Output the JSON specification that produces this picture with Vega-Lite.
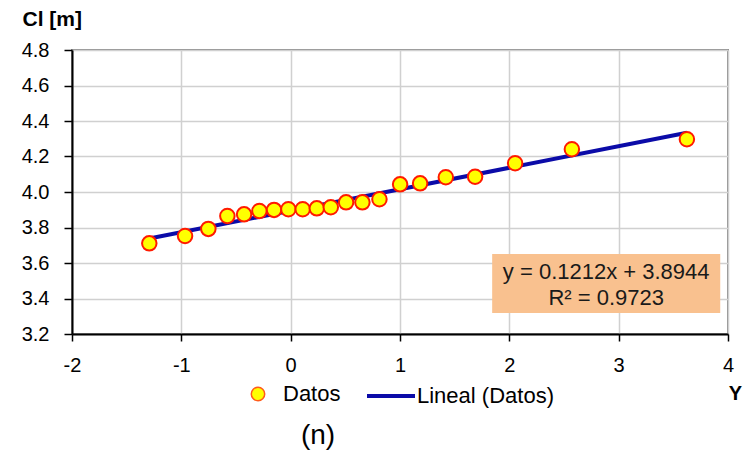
{
  "$schema": "https://vega.github.io/schema/vega-lite/v6.json",
  "width": 656,
  "height": 284,
  "autosize": {"type": "none"},
  "padding": {"left": 72, "top": 50, "right": 25, "bottom": 117},
  "background": "#ffffff",
  "config": {
    "font": "Liberation Sans",
    "view": {"stroke": "#8c8c8c", "strokeWidth": 2},
    "axis": {
      "labelFont": "Liberation Sans",
      "labelFontSize": 20,
      "labelColor": "#000000",
      "labelOverlap": false,
      "labelFlush": false,
      "titleFont": "Liberation Sans",
      "titleColor": "#000000",
      "gridColor": "#d0d0d0",
      "gridWidth": 1.5,
      "domainColor": "#000000",
      "domainWidth": 2,
      "tickColor": "#000000",
      "tickWidth": 1.5
    },
    "legend": {
      "labelFont": "Liberation Sans",
      "labelFontSize": 22,
      "labelColor": "#000000",
      "padding": 0
    },
    "title": {"font": "Liberation Sans"}
  },
  "title": {
    "text": "(n)",
    "orient": "bottom",
    "anchor": "middle",
    "frame": "group",
    "fontSize": 28,
    "fontWeight": "normal",
    "color": "#000000",
    "dx": -82,
    "offset": 15
  },
  "datasets": {
    "pts": [
      {"x": -1.293, "y": 3.711, "serie": "Datos"},
      {"x": -0.966, "y": 3.752, "serie": "Datos"},
      {"x": -0.753, "y": 3.792, "serie": "Datos"},
      {"x": -0.579, "y": 3.865, "serie": "Datos"},
      {"x": -0.426, "y": 3.874, "serie": "Datos"},
      {"x": -0.286, "y": 3.893, "serie": "Datos"},
      {"x": -0.152, "y": 3.899, "serie": "Datos"},
      {"x": -0.021, "y": 3.903, "serie": "Datos"},
      {"x": 0.110, "y": 3.903, "serie": "Datos"},
      {"x": 0.239, "y": 3.908, "serie": "Datos"},
      {"x": 0.367, "y": 3.914, "serie": "Datos"},
      {"x": 0.507, "y": 3.942, "serie": "Datos"},
      {"x": 0.656, "y": 3.942, "serie": "Datos"},
      {"x": 0.812, "y": 3.959, "serie": "Datos"},
      {"x": 1.001, "y": 4.043, "serie": "Datos"},
      {"x": 1.184, "y": 4.049, "serie": "Datos"},
      {"x": 1.419, "y": 4.083, "serie": "Datos"},
      {"x": 1.687, "y": 4.086, "serie": "Datos"},
      {"x": 2.053, "y": 4.162, "serie": "Datos"},
      {"x": 2.572, "y": 4.241, "serie": "Datos"},
      {"x": 3.624, "y": 4.297, "serie": "Datos"}
    ],
    "trend": [
      {"x": -1.293, "y": 3.7377, "linea": "Lineal (Datos)"},
      {"x": 3.624, "y": 4.3336, "linea": "Lineal (Datos)"}
    ],
    "box": [
      {"x": 1.843, "x2": 3.929, "y": 3.651, "y2": 3.318}
    ],
    "eq": [
      {"x": 2.886, "y": 3.551, "label": "y = 0.1212x + 3.8944"},
      {"x": 2.886, "y": 3.401, "label": "R² = 0.9723"}
    ]
  },
  "encoding": {
    "x": {
      "field": "x",
      "type": "quantitative",
      "scale": {"domain": [-2, 4], "nice": false, "zero": false},
      "axis": {
        "values": [-2, -1, 0, 1, 2, 3, 4],
        "labelExpr": "replace(format(datum.value, '.0f'), '\u2212', '-')",
        "labelOverlap": false,
        "labelFlush": false,
        "tickSize": 7,
        "labelPadding": 14,
        "title": "Y",
        "titleFontSize": 20,
        "titleFontWeight": "bold",
        "titleAlign": "center",
        "titleBaseline": "middle",
        "titleX": 663,
        "titleY": 59
      }
    },
    "y": {
      "field": "y",
      "type": "quantitative",
      "scale": {"domain": [3.2, 4.8], "nice": false, "zero": false},
      "axis": {
        "values": [3.2, 3.4, 3.6, 3.8, 4.0, 4.2, 4.4, 4.6, 4.8],
        "format": ".1f",
        "labelOverlap": false,
        "labelFlush": false,
        "tickSize": 8,
        "labelPadding": 15,
        "title": "Cl [m]",
        "titleFontSize": 21,
        "titleFontWeight": "bold",
        "titleAngle": 0,
        "titleAlign": "left",
        "titleBaseline": "alphabetic",
        "titleX": -50,
        "titleY": -25
      }
    }
  },
  "layer": [
    {
      "data": {"name": "box"},
      "mark": {"type": "rect", "fill": "#F9C18F"},
      "encoding": {
        "x2": {"field": "x2"},
        "y2": {"field": "y2"}
      }
    },
    {
      "data": {"name": "eq"},
      "mark": {"type": "text", "fontSize": 22, "color": "#1a1a1a", "align": "center", "baseline": "middle"},
      "encoding": {
        "text": {"field": "label"}
      }
    },
    {
      "data": {"name": "trend"},
      "mark": {"type": "line", "strokeWidth": 4},
      "encoding": {
        "stroke": {
          "field": "linea",
          "type": "nominal",
          "scale": {"domain": ["Lineal (Datos)"], "range": ["#0B0BA8"]},
          "legend": {
            "title": null,
            "orient": "none",
            "legendX": 293,
            "legendY": 320,
            "symbolType": "stroke",
            "symbolSize": 2304,
            "symbolStrokeWidth": 4,
            "labelOffset": 0
          }
        }
      }
    },
    {
      "data": {"name": "pts"},
      "mark": {"type": "point", "shape": "circle", "filled": true, "size": 210, "stroke": "#FF1A00", "strokeWidth": 2, "opacity": 1},
      "encoding": {
        "fill": {
          "field": "serie",
          "type": "nominal",
          "scale": {"domain": ["Datos"], "range": ["#FFFF00"]},
          "legend": {
            "title": null,
            "orient": "none",
            "legendX": 175,
            "legendY": 333,
            "symbolType": "circle",
            "symbolSize": 180,
            "symbolStrokeColor": "#FF5A1A",
            "symbolStrokeWidth": 1.5,
            "symbolOpacity": 1,
            "labelOffset": 14
          }
        }
      }
    }
  ]
}
